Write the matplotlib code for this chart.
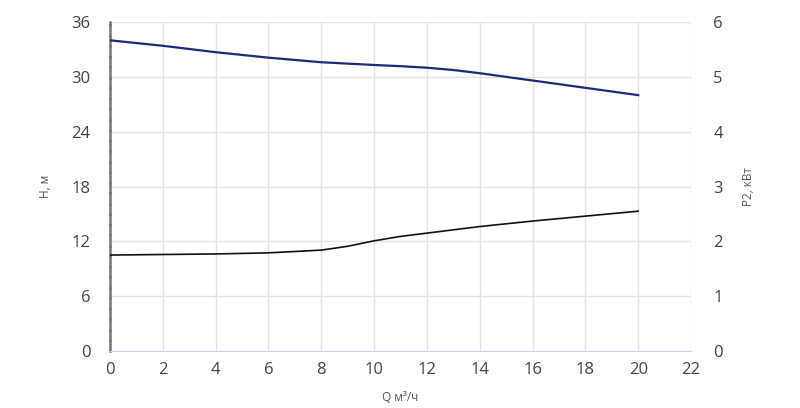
import matplotlib.pyplot as plt
from matplotlib.ticker import MultipleLocator

plt.rcParams['font.family'] = ['Open Sans', 'DejaVu Sans']

q = [0, 2, 4, 6, 8, 9, 10, 11, 12, 13, 14, 16, 18, 20]
head = [34.0, 33.4, 32.7, 32.1, 31.6, 31.45, 31.3, 31.17, 31.0, 30.75, 30.4, 29.6, 28.8, 28.0]
power = [1.75, 1.76, 1.77, 1.79, 1.84, 1.91, 2.01, 2.09, 2.15, 2.21, 2.27, 2.37, 2.46, 2.55]

fig = plt.figure(figsize=(8, 4.08), dpi=100)
ax = fig.add_axes([0.1375, 0.1397, 0.7263, 0.8063])
ax2 = ax.twinx()

ax.plot(q, head, color='#1c2a78', lw=1.6, zorder=3)
ax2.plot(q, power, color='#111111', lw=1.2, zorder=3)

ax.set_xlim(0, 22)
ax.set_ylim(0, 36)
ax2.set_ylim(0, 6)
ax.set_xticks(range(0, 23, 2))
ax.set_yticks(range(0, 37, 6))
ax2.set_yticks(range(0, 7))

ax.grid(True, color='#e3e3e3', lw=1)
ax.set_axisbelow(True)

for s in ['top', 'right']:
    ax.spines[s].set_visible(False)
for s in ['top', 'right', 'left', 'bottom']:
    ax2.spines[s].set_visible(False)
ax.spines['bottom'].set_color('#ccd6eb')
ax.spines['left'].set_color('#777777')
ax.spines['left'].set_linewidth(1.8)

# small dark dots along the left spine
ax.yaxis.set_minor_locator(MultipleLocator(1.15))
ax.tick_params(axis='y', which='minor', direction='inout', length=1.8, width=1.8, color='#222222')
ax.tick_params(axis='y', which='major', length=0, pad=14, labelsize=12, labelcolor='#444444')
ax.tick_params(axis='x', length=0, pad=8, labelsize=12, labelcolor='#444444')
ax2.tick_params(axis='y', length=0, pad=16, labelsize=12, labelcolor='#444444')

ax.set_xlabel('Q м³/ч', fontsize=8.5, color='#555555', labelpad=9)
ax.set_ylabel('H, м', fontsize=8.5, color='#555555', labelpad=14)
ax2.set_ylabel('P2, кВт', fontsize=8.5, color='#555555', labelpad=14)

fig.savefig('out.png', dpi=100)
